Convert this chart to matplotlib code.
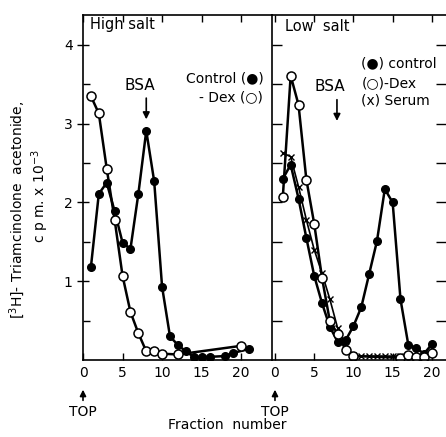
import matplotlib.pyplot as plt
import numpy as np

# High salt gradient
hs_frac_ctrl = [1, 2, 3, 4, 5, 6, 7, 8, 9, 10, 11, 12, 13, 14, 15, 16, 18, 19, 21]
hs_ctrl = [1.18, 2.11, 2.25, 1.89, 1.49, 1.41, 2.11, 2.91, 2.27, 0.93, 0.30,
           0.19, 0.11, 0.04, 0.04, 0.04, 0.05, 0.09, 0.14]
hs_frac_dex = [1, 2, 3, 4, 5, 6, 7, 8, 9, 10, 12, 20]
hs_dex = [3.35, 3.13, 2.43, 1.78, 1.07, 0.61, 0.34, 0.11, 0.11, 0.08, 0.07, 0.18]

# Low salt gradient
ls_frac_ctrl = list(range(1, 21))
ls_ctrl = [2.30, 2.48, 2.05, 1.55, 1.07, 0.72, 0.42, 0.23, 0.25, 0.43, 0.67,
           1.09, 1.51, 2.17, 2.00, 0.77, 0.19, 0.15, 0.08, 0.20]
ls_frac_dex = [1, 2, 3, 4, 5, 6, 7, 8, 9, 10, 16, 17, 18, 19, 20]
ls_dex = [2.07, 3.61, 3.24, 2.29, 1.73, 1.04, 0.49, 0.33, 0.13, 0.05,
          0.03, 0.06, 0.04, 0.04, 0.09]
ls_frac_serum = list(range(1, 17))
ls_serum = [2.63, 2.58, 2.20, 1.78, 1.40, 1.10, 0.77, 0.40, 0.18, 0.06,
            0.05, 0.05, 0.05, 0.05, 0.05, 0.05]

xticks = [0, 5, 10, 15, 20]

fig = plt.figure(figsize=(4.46, 4.37), dpi=100)
ax1 = fig.add_axes([83/446, 77/437, 189/446, 345/437])
ax2 = fig.add_axes([272/446, 77/437, 174/446, 345/437])

filled = dict(color='black', lw=1.8, marker='o', ms=5.5)
opened = dict(color='black', lw=1.8, marker='o', ms=6.5, mfc='white', mec='black', mew=1.1)

ax1.plot(hs_frac_ctrl, hs_ctrl, **filled)
ax1.plot(hs_frac_dex, hs_dex, **opened)

ax2.plot(ls_frac_serum, ls_serum, color='black', lw=1.2, marker='x', ms=4.5, mew=1.0)
ax2.plot(ls_frac_ctrl, ls_ctrl, **filled)
ax2.plot(ls_frac_dex, ls_dex, **opened)

ax1.set_xlim(0, 23.9)
ax2.set_xlim(-0.38, 21.8)
for ax in (ax1, ax2):
    ax.set_ylim(0, 4.38)
    ax.set_xticks(xticks)
    ax.tick_params(axis='x', direction='in', top=True, length=5, width=1,
                   labelsize=10, pad=4)
    for s in ax.spines.values():
        s.set_linewidth(1.2)

ax1.set_yticks([1, 2, 3, 4])
ax1.set_yticks([0.5, 1.5, 2.5, 3.5], minor=True)
ax1.tick_params(axis='y', which='major', direction='inout', length=8, width=1, labelsize=10)
ax1.tick_params(axis='y', which='minor', direction='in', length=5, width=1)
ax1.spines['right'].set_visible(False)

ax2.set_yticks(np.arange(0.5, 4.5, 0.5))
ax2.tick_params(axis='y', direction='in', left=True, right=True, length=7,
                width=1, labelleft=False)
ax2.spines['right'].set_visible(False)

# panel labels
ax1.text(0.9, 4.26, 'High salt', fontsize=10.5, va='center', ha='left')
ax1.text(7.2, 3.49, 'BSA', fontsize=11, ha='center', va='center')
ax1.annotate('', xy=(8, 3.02), xytext=(8, 3.36),
             arrowprops=dict(arrowstyle='-|>', color='black', lw=1.2, mutation_scale=10))
ax1.text(22.8, 3.58, 'Control (\u25cf)', fontsize=10, ha='right', va='center')
ax1.text(22.8, 3.34, '- Dex (\u25cb)', fontsize=10, ha='right', va='center')

ax2.text(1.3, 4.23, 'Low  salt', fontsize=10.5, va='center', ha='left')
ax2.text(7.0, 3.47, 'BSA', fontsize=11, ha='center', va='center')
ax2.annotate('', xy=(7.9, 3.0), xytext=(7.9, 3.34),
             arrowprops=dict(arrowstyle='-|>', color='black', lw=1.2, mutation_scale=10))
ax2.text(11.0, 3.77, '(\u25cf) control', fontsize=10, ha='left', va='center')
ax2.text(11.0, 3.52, '(\u25cb)-Dex', fontsize=10, ha='left', va='center')
ax2.text(11.0, 3.30, '(x) Serum', fontsize=10, ha='left', va='center')

# TOP markers under the zero fraction
for ax, x0 in ((ax1, 0), (ax2, 0)):
    ax.annotate('', xy=(x0, -0.078), xytext=(x0, -0.125),
                xycoords=ax.get_xaxis_transform(), textcoords=ax.get_xaxis_transform(),
                arrowprops=dict(arrowstyle='-|>', color='black', lw=1.2, mutation_scale=9),
                annotation_clip=False)
    ax.text(x0, -0.15, 'TOP', transform=ax.get_xaxis_transform(), ha='center',
            va='center', fontsize=10)

fig.text(227/446, 12/437, 'Fraction  number', ha='center', va='center', fontsize=10)
fig.text(17/446, 0.52, '[$^3$H]- Triamcinolone  acetonide,', rotation=90,
         ha='center', va='center', fontsize=10)
fig.text(40/446, 0.55, 'c p m. x 10$^{-3}$', rotation=90, ha='center', va='center',
         fontsize=10)

fig.savefig('out.png', dpi=100)
